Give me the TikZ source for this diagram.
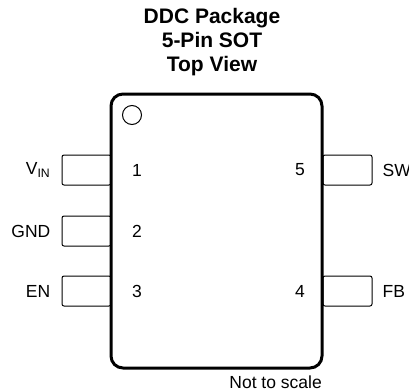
\documentclass[tikz,border=0pt]{standalone}
\usepackage{fontspec}
\setmainfont{Liberation Sans}
\usetikzlibrary{positioning}

\begin{document}
\begin{tikzpicture}[
    x=1pt, y=-1pt,
    body/.style={draw, line width=3pt, rounded corners=12pt, minimum width=211pt, minimum height=274pt, inner sep=0pt},
    pinbox/.style={draw, line width=1pt, rounded corners=2pt, minimum width=49pt, minimum height=30pt, inner sep=0pt},
    pinnum/.style={font=\fontsize{17.5}{21}\selectfont, inner sep=0pt},
    pinname/.style={font=\fontsize{17.5}{21}\selectfont, inner sep=0pt},
    title/.style={font=\fontsize{21}{24}\selectfont\bfseries, align=center, inner sep=0pt}
]
\useasboundingbox (0,0) rectangle (409,391);

% Title
\node (T) [title] at (212,42) {DDC Package\\5-Pin SOT\\Top View};

% Pins (drawn first, body covers the inner ends)
\node (P1) [pinbox] at (86.5,170) {};
\node (P2) [pinbox] at (86.5,231) {};
\node (P3) [pinbox] at (86.5,291) {};
\node (P5) [pinbox] at (347.5,170) {};
\node (P4) [pinbox] at (347.5,291) {};

% Package body
\node (B) [body, fill=white] at (216.5,231) {};
\node (D) [draw, circle, line width=1pt, minimum size=19pt, inner sep=0pt] at (132,115) {};

% Pin numbers
\node (N1) [pinnum] at (137,170) {1};
\node (N2) [pinnum] at (137,231) {2};
\node (N3) [pinnum] at (137,291) {3};
\node (N5) [pinnum] at (300,170) {5};
\node (N4) [pinnum] at (300,291) {4};

% Pin names
\node (L1) [pinname, left=11pt of P1.west] {V\textsubscript{IN}};
\node (L2) [pinname, left=11pt of P2.west] {GND};
\node (L3) [pinname, left=11pt of P3.west] {EN};
\node (L5) [pinname, right=10pt of P5.east] {SW};
\node (L4) [pinname, right=10pt of P4.east] {FB};

% Note
\node (S) [pinname, anchor=east] at (322,382) {Not to scale};
\end{tikzpicture}
\end{document}
